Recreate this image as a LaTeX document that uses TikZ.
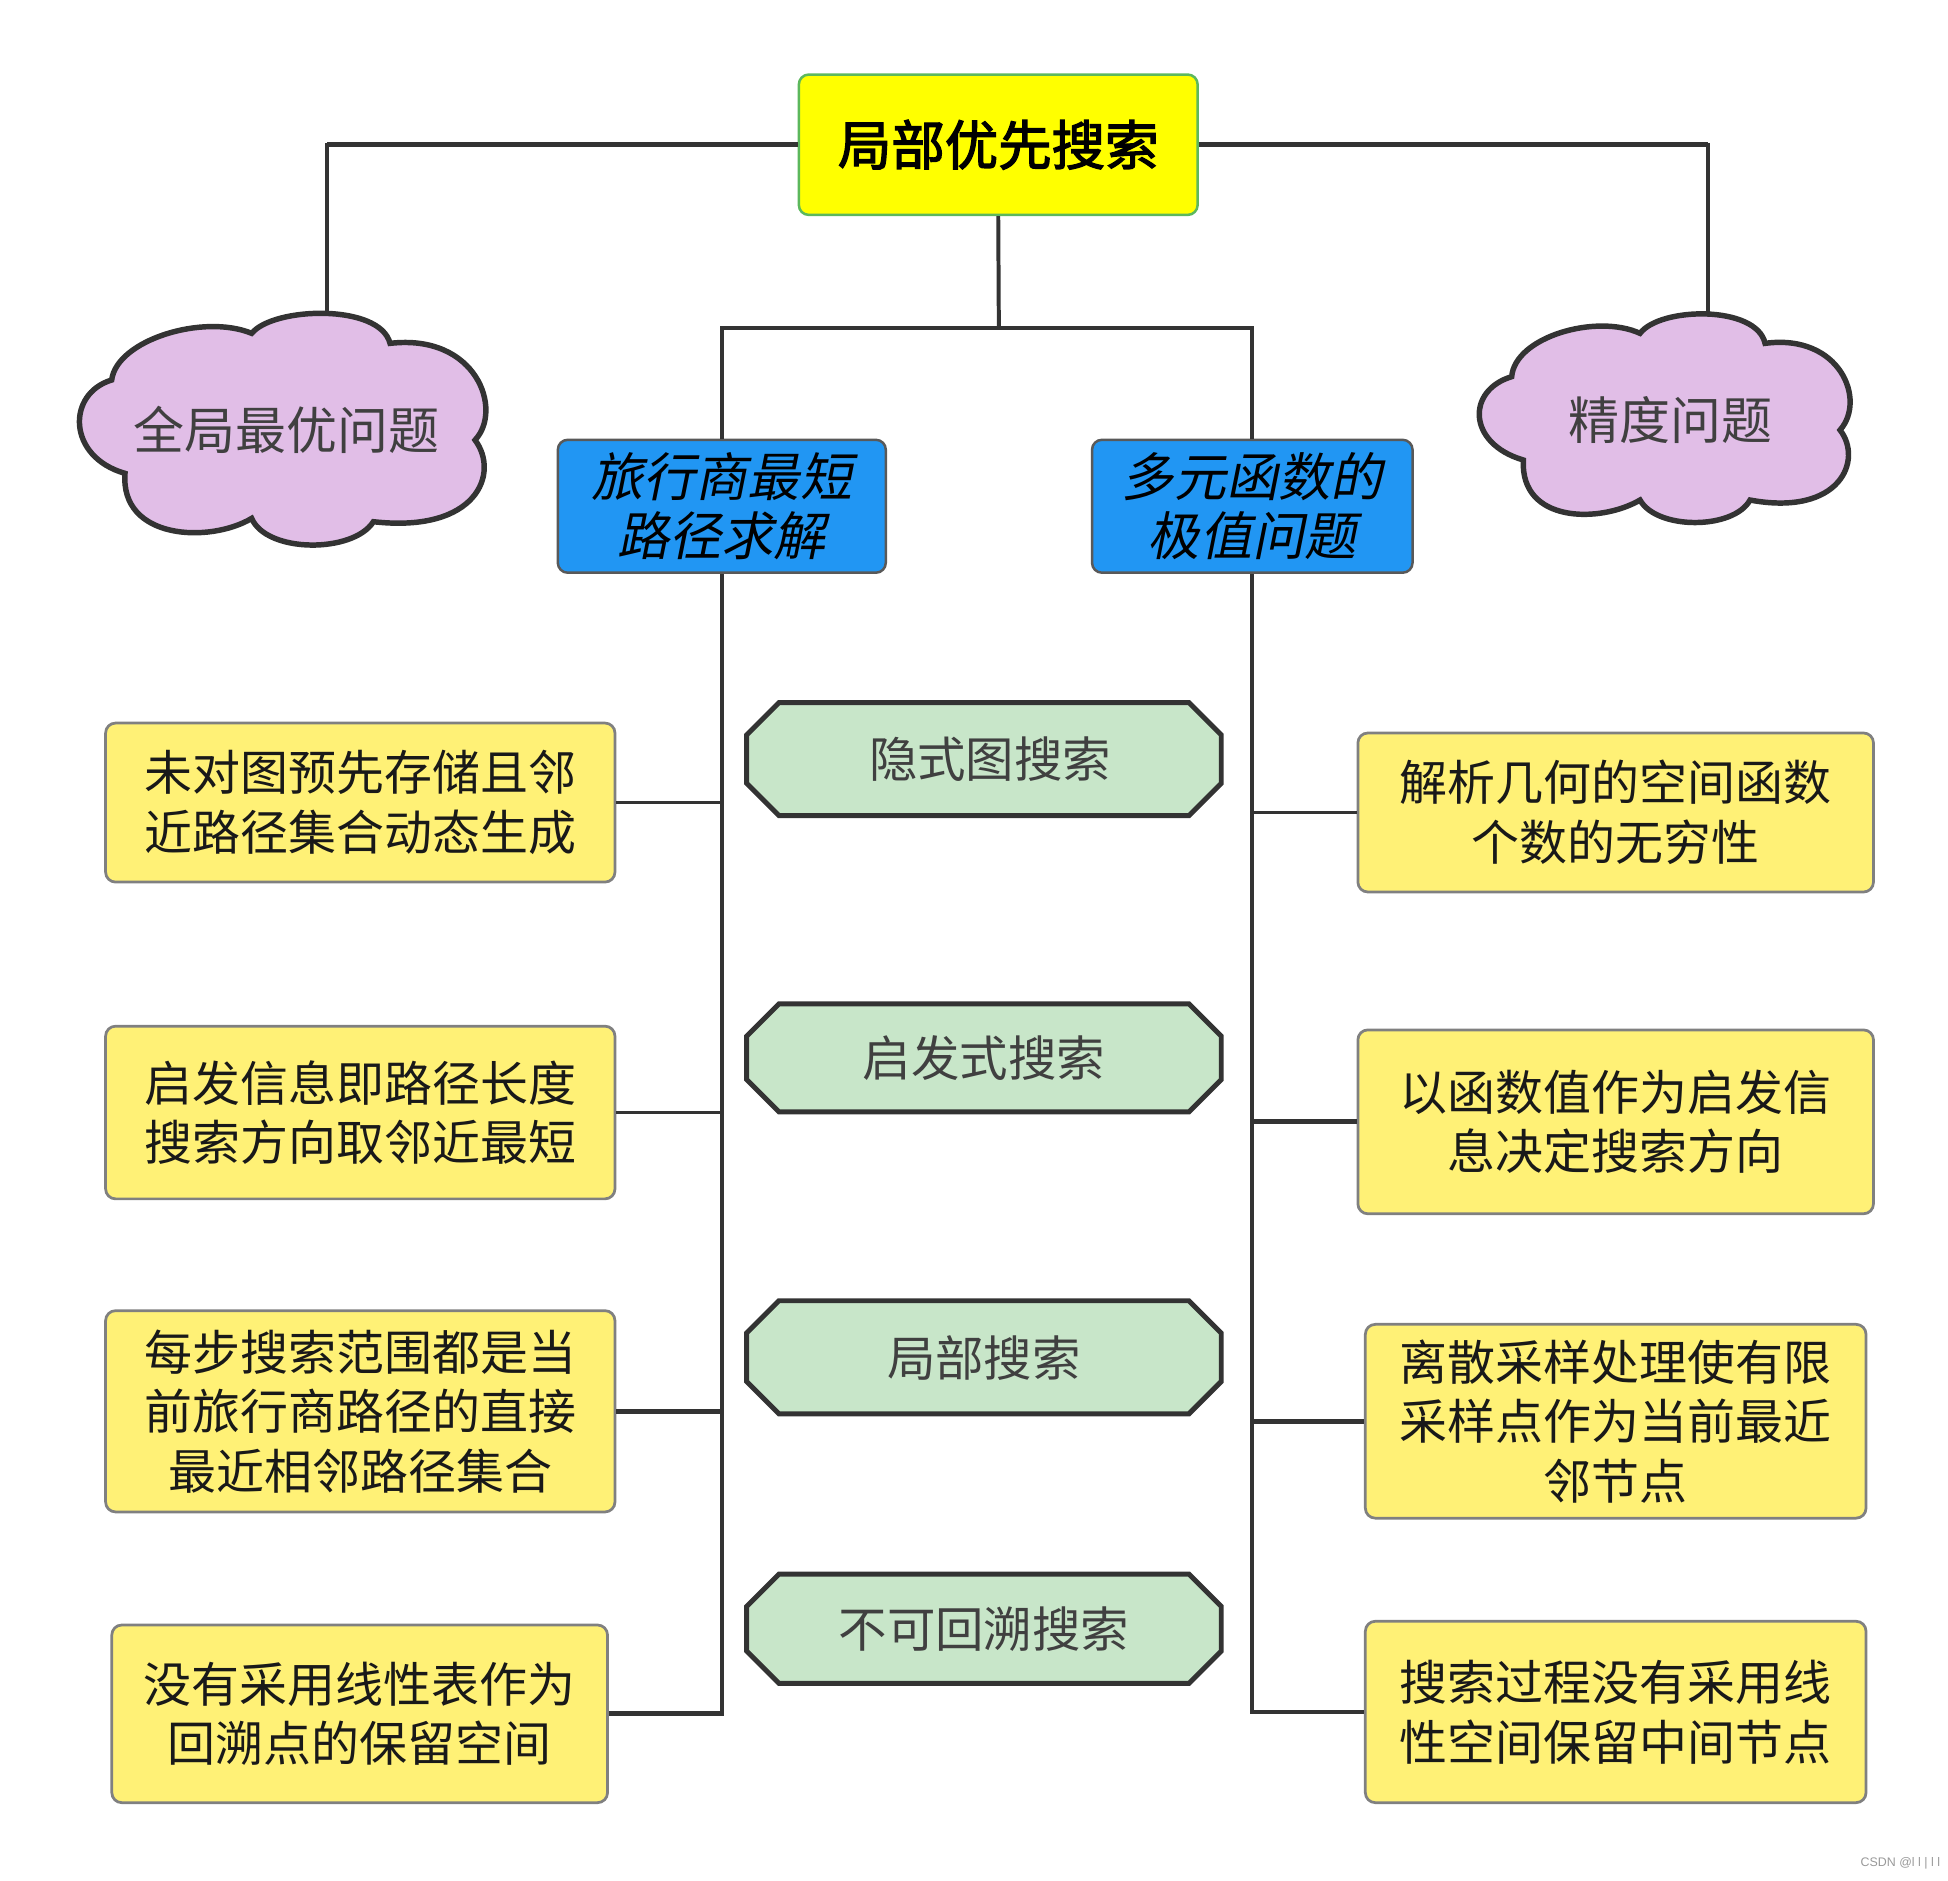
\documentclass[tikz,border=0pt]{standalone}
\usepackage{fontspec}
\setmainfont{Noto Sans CJK SC}
\newfontfamily\cjkit{Noto Sans CJK SC}[FakeSlant=0.2]
\newfontfamily\cjkbf{Noto Sans CJK SC}[FakeBold=2.5]
\newfontfamily\wmfont{Liberation Sans}
\definecolor{leafy}{HTML}{FFF176}
\definecolor{topy}{HTML}{FFFF00}
\definecolor{topg}{HTML}{5CB85C}
\definecolor{bluef}{HTML}{2196F3}
\definecolor{cloudf}{HTML}{E1BEE7}
\definecolor{octf}{HTML}{C8E6C9}
\definecolor{linec}{HTML}{333333}
\definecolor{txtg}{HTML}{404040}
\tikzset{
  every node/.style={inner sep=0pt, align=center},
  topbox/.style={rectangle, rounded corners=4pt, fill=topy, draw=topg, line width=1pt, font=\cjkbf\fontsize{21.5pt}{26pt}\selectfont},
  bluebox/.style={rectangle, rounded corners=4pt, fill=bluef, draw=gray!70!black, line width=1pt, font=\cjkit\fontsize{21pt}{24pt}\selectfont},
  leafbox/.style={rectangle, rounded corners=4pt, fill=leafy, draw=gray, line width=1.1pt, text=black!90, font=\fontsize{19.3pt}{24pt}\selectfont},
  cloudtext/.style={text=txtg, font=\fontsize{20.5pt}{24pt}\selectfont},
  cloudline/.style={fill=cloudf, draw=linec, line width=2.2pt},
  octtext/.style={text=txtg, font=\fontsize{19.5pt}{24pt}\selectfont},
  octline/.style={fill=octf, draw=linec, line width=2pt, line join=miter},
  hline/.style={draw=linec, line width=1.9pt},
  vline/.style={draw=linec, line width=1.6pt},
  tline/.style={draw=linec, line width=1.1pt},
}
% octagon: centre x, centre y, half height
\newcommand\octshape[3]{%
  \draw[octline] ({#1-191},{#2-#3+26}) -- ({#1-165},{#2-#3}) -- ({#1+165},{#2-#3})
    -- ({#1+191},{#2-#3+26}) -- ({#1+191},{#2+#3-26}) -- ({#1+165},{#2+#3})
    -- ({#1-165},{#2+#3}) -- ({#1-191},{#2+#3-26}) -- cycle;}
\begin{document}
\begin{tikzpicture}[x=0.5pt, y=-0.5pt]
\useasboundingbox (0,0) rectangle (1568,1514);

% cloud outlines
\begin{scope}[shift={(48.3,241.5)}, scale=0.26832]
\draw[cloudline] (155,240) .. controls (170,120) and (430,40) .. (575,100)
  .. controls (640,20) and (960,10) .. (990,130)
  .. controls (1250,100) and (1330,330) .. (1245,420)
  .. controls (1320,520) and (1250,700) .. (940,665)
  .. controls (880,760) and (620,760) .. (575,655)
  .. controls (450,730) and (180,720) .. (195,520)
  .. controls (20,470) and (20,280) .. (155,240) -- cycle;
\end{scope}
\begin{scope}[shift={(1175.2,241.5)}, scale=0.26832]
\draw[cloudline] (155,230) .. controls (165,110) and (410,40) .. (540,100)
  .. controls (600,20) and (890,15) .. (915,130)
  .. controls (1140,100) and (1220,300) .. (1140,390)
  .. controls (1210,480) and (1140,650) .. (870,600)
  .. controls (820,690) and (590,690) .. (540,600)
  .. controls (420,670) and (180,670) .. (190,480)
  .. controls (20,430) and (20,270) .. (155,230) -- cycle;
\end{scope}

% octagon outlines
\octshape{792}{611}{45.5}
\octshape{792}{851.5}{43.5}
\octshape{792}{1092.5}{45.5}
\octshape{792}{1311}{44}

% nodes
\node[topbox, minimum width=160.5pt, minimum height=56.5pt] (top) at (803.5,116.5) {局部优先搜索};
\node[cloudtext] (cloudL) at (230.8,346) {全局最优问题};
\node[cloudtext] (cloudR) at (1344.3,338) {精度问题};
\node[bluebox, minimum width=132pt, minimum height=53.5pt] (blueL) at (581,407.5) {旅行商最短\\路径求解};
\node[bluebox, minimum width=129pt, minimum height=53.5pt] (blueR) at (1008,407.5) {多元函数的\\极值问题};

\node[leafbox, minimum width=205pt, minimum height=64pt] (L1) at (290,646) {未对图预先存储且邻\\近路径集合动态生成};
\node[leafbox, minimum width=205pt, minimum height=69.5pt] (L2) at (290,895.5) {启发信息即路径长度\\搜索方向取邻近最短};
\node[leafbox, minimum width=205pt, minimum height=81pt] (L3) at (290,1136) {每步搜索范围都是当\\前旅行商路径的直接\\最近相邻路径集合};
\node[leafbox, minimum width=199.5pt, minimum height=71.5pt] (L4) at (289.5,1379.5) {没有采用线性表作为\\回溯点的保留空间};

\node[leafbox, minimum width=207.5pt, minimum height=64pt] (R1) at (1300.5,654) {解析几何的空间函数\\个数的无穷性};
\node[leafbox, minimum width=207.5pt, minimum height=74pt] (R2) at (1300.5,903) {以函数值作为启发信\\息决定搜索方向};
\node[leafbox, minimum width=201.5pt, minimum height=78pt] (R3) at (1300.5,1144) {离散采样处理使有限\\采样点作为当前最近\\邻节点};
\node[leafbox, minimum width=201.5pt, minimum height=73pt] (R4) at (1300.5,1378) {搜索过程没有采用线\\性空间保留中间节点};

\node[octtext] (O1) at (797,611) {隐式图搜索};
\node[octtext] (O2) at (792,852) {启发式搜索};
\node[octtext] (O3) at (792,1093) {局部搜索};
\node[octtext] (O4) at (792,1311) {不可回溯搜索};

\node[font=\wmfont\fontsize{5pt}{6pt}\selectfont, text=gray!80, anchor=east] (wm) at (1562,1500) {CSDN @l l | l l};

% connector coordinates
\coordinate (cLtop) at (263,254);
\coordinate (cRtop) at (1375,254);
\coordinate (bar) at (804,264);

% top connectors
\draw[vline] (top.west) -| (cLtop);
\draw[hline] (top.west) -- (top.west -| cLtop);
\draw[vline] (top.east) -| (cRtop);
\draw[hline] (top.east) -- (top.east -| cRtop);
\draw[vline] (top.south) -- (bar);
\draw[vline] (blueL.north) |- (bar) -| (blueR.north);
\draw[hline] (blueL.north |- bar) -- (blueR.north |- bar);

% left spine
\draw[vline] (blueL.south) |- (L4.east);
\draw[tline] (L1.east) -- (L1.east -| blueL.south);
\draw[tline] (L2.east) -- (L2.east -| blueL.south);
\draw[hline] (L3.east) -- (L3.east -| blueL.south);
\draw[hline] (L4.east) -- (L4.east -| blueL.south);

% right spine
\draw[vline] (blueR.south) |- (R4.west);
\draw[tline] (R1.west) -- (R1.west -| blueR.south);
\draw[hline] (R2.west) -- (R2.west -| blueR.south);
\draw[hline] (R3.west) -- (R3.west -| blueR.south);
\draw[hline] (R4.west) -- (R4.west -| blueR.south);
\end{tikzpicture}
\end{document}
